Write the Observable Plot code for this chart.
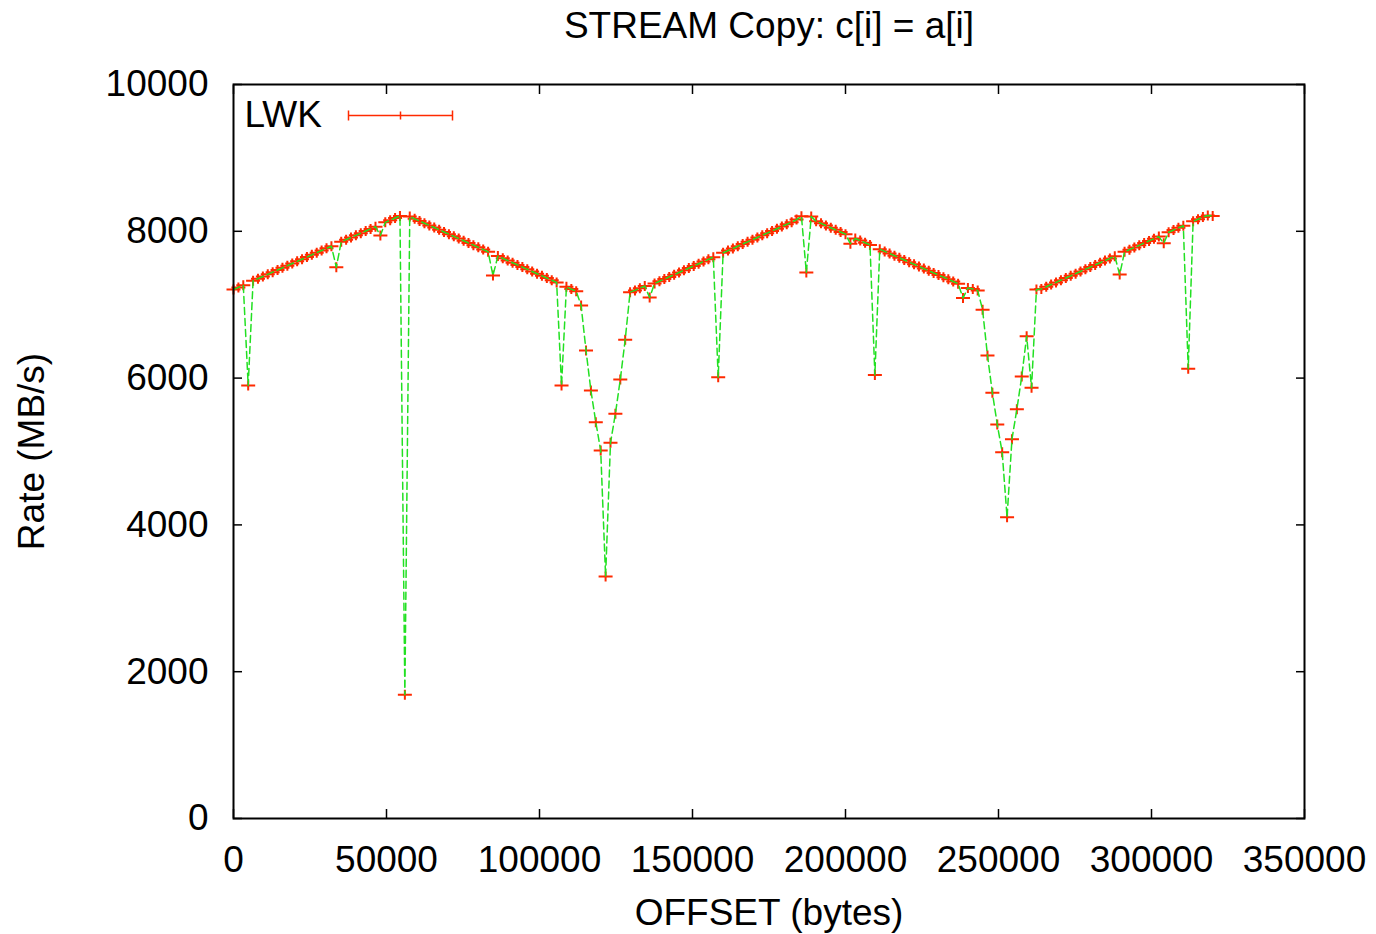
<!DOCTYPE html>
<html>
<head>
<meta charset="utf-8">
<script src="https://cdn.jsdelivr.net/npm/d3@7"></script>
<script src="https://cdn.jsdelivr.net/npm/@observablehq/plot@0.6"></script>
<style>
  html, body { margin: 0; padding: 0; background: #fff; }
  #chart svg { display: block; }
</style>
</head>
<body>
<div id="chart"></div>
<script>
// ---- data ----
const titleText = "STREAM Copy: c[i] = a[i]";
const xLabel = "OFFSET (bytes)";
const yLabel = "Rate (MB/s)";
const seriesName = "LWK";
const offsetStep = 1600; // bytes between successive measurements
const xTicks = [0, 50000, 100000, 150000, 200000, 250000, 300000, 350000];
const yTicks = [0, 2000, 4000, 6000, 8000, 10000];
const rate = [
  7207, 7236, 7266, 5900, 7325, 7355, 7384, 7414, 7443, 7473,
  7502, 7532, 7561, 7591, 7620, 7650, 7679, 7709, 7738, 7768,
  7797, 7510, 7856, 7886, 7915, 7945, 7974, 8004, 8033, 8063,
  7943, 8122, 8151, 8181, 8210, 1685, 8200, 8170, 8140, 8110,
  8080, 8051, 8021, 7991, 7961, 7931, 7901, 7871, 7841, 7811,
  7781, 7751, 7722, 7398, 7662, 7632, 7602, 7572, 7542, 7512,
  7482, 7452, 7422, 7393, 7363, 7333, 7303, 5899, 7243, 7213,
  7183, 6989, 6376, 5831, 5399, 5014, 3297, 5118, 5513, 5981,
  6522, 7170, 7195, 7225, 7255, 7098, 7290, 7320, 7350, 7379,
  7409, 7439, 7469, 7499, 7528, 7558, 7588, 7618, 7648, 6010,
  7707, 7737, 7767, 7797, 7826, 7856, 7886, 7916, 7946, 7975,
  8005, 8035, 8065, 8095, 8124, 8160, 8205, 7440, 8200, 8137,
  8108, 8078, 8049, 8020, 7990, 7961, 7830, 7902, 7873, 7844,
  7814, 6042, 7756, 7726, 7697, 7668, 7638, 7609, 7580, 7551,
  7521, 7492, 7463, 7433, 7404, 7375, 7346, 7316, 7287, 7090,
  7229, 7214, 7195, 6930, 6308, 5800, 5368, 4990, 4105, 5167,
  5576, 6022, 6571, 5867, 7207, 7215, 7245, 7275, 7304, 7334,
  7364, 7393, 7423, 7453, 7483, 7512, 7542, 7572, 7601, 7631,
  7661, 7410, 7720, 7750, 7780, 7809, 7839, 7869, 7898, 7928,
  7837, 7987, 8017, 8047, 8076, 6127, 8136, 8165, 8195, 8215,
  8210
];

const data = rate.map((r, i) => ({offset: i * offsetStep, rate: r}));

const red = "#ff2a00";
const green = "#22e022";

// "+" marker with a wider horizontal arm (x error bar look)
const plusSymbol = {
  draw(ctx) {
    ctx.moveTo(-7, 0); ctx.lineTo(7, 0);
    ctx.moveTo(0, -5); ctx.lineTo(0, 5);
  }
};
// legend sample: horizontal bar with end ticks and centre mark
const legendSymbol = {
  draw(ctx) {
    ctx.moveTo(-52, 0); ctx.lineTo(52, 0);
    ctx.moveTo(-52, -5); ctx.lineTo(-52, 5);
    ctx.moveTo(52, -5); ctx.lineTo(52, 5);
    ctx.moveTo(0, -4); ctx.lineTo(0, 4);
  }
};

const fmt = d => String(d);

const chart = Plot.plot({
  width: 1376,
  height: 934,
  marginLeft: 233,
  marginRight: 72,
  marginTop: 84,
  marginBottom: 116,
  style: {
    fontFamily: "'Liberation Sans', Arial, Helvetica, sans-serif",
    fontSize: "37px",
    color: "#000",
    background: "#fff",
    overflow: "visible"
  },
  x: {domain: [0, 350000]},
  y: {domain: [0, 10000]},
  marks: [
    Plot.axisX({anchor: "bottom", ticks: xTicks, tickFormat: fmt, tickSize: -9, tickPadding: 36, strokeWidth: 1.5, label: null}),
    Plot.axisX({anchor: "top", ticks: xTicks, tickFormat: () => "", tickSize: -9, strokeWidth: 1.5, label: null}),
    Plot.axisY({anchor: "left", ticks: yTicks, tickFormat: fmt, tickSize: -9, tickPadding: 34, strokeWidth: 1.5, label: null}),
    Plot.axisY({anchor: "right", ticks: yTicks, tickFormat: () => "", tickSize: -9, strokeWidth: 1.5, label: null}),
    Plot.dot(data, {x: "offset", y: "rate", symbol: plusSymbol, r: 4, fill: "none", stroke: red, strokeWidth: 2}),
    Plot.line(data, {x: "offset", y: "rate", stroke: green, strokeWidth: 1.5, strokeDasharray: "7,4"}),
    Plot.frame({stroke: "#000", strokeWidth: 2}),
    Plot.text([titleText], {frameAnchor: "top", dy: -58, lineAnchor: "middle", textAnchor: "middle", fontSize: 37}),
    Plot.text([xLabel], {frameAnchor: "bottom", dy: 95, lineAnchor: "middle", textAnchor: "middle", fontSize: 37}),
    Plot.text([yLabel], {frameAnchor: "left", dx: -201, rotate: -90, lineAnchor: "middle", textAnchor: "middle", fontSize: 37}),
    Plot.text([seriesName], {frameAnchor: "top-left", dx: 11, dy: 31, textAnchor: "start", lineAnchor: "middle", fontSize: 37}),
    Plot.dot([seriesName], {frameAnchor: "top-left", dx: 167, dy: 31, symbol: legendSymbol, r: 4, fill: "none", stroke: red, strokeWidth: 1.5})
  ]
});

document.getElementById("chart").appendChild(chart);
</script>
</body>
</html>
